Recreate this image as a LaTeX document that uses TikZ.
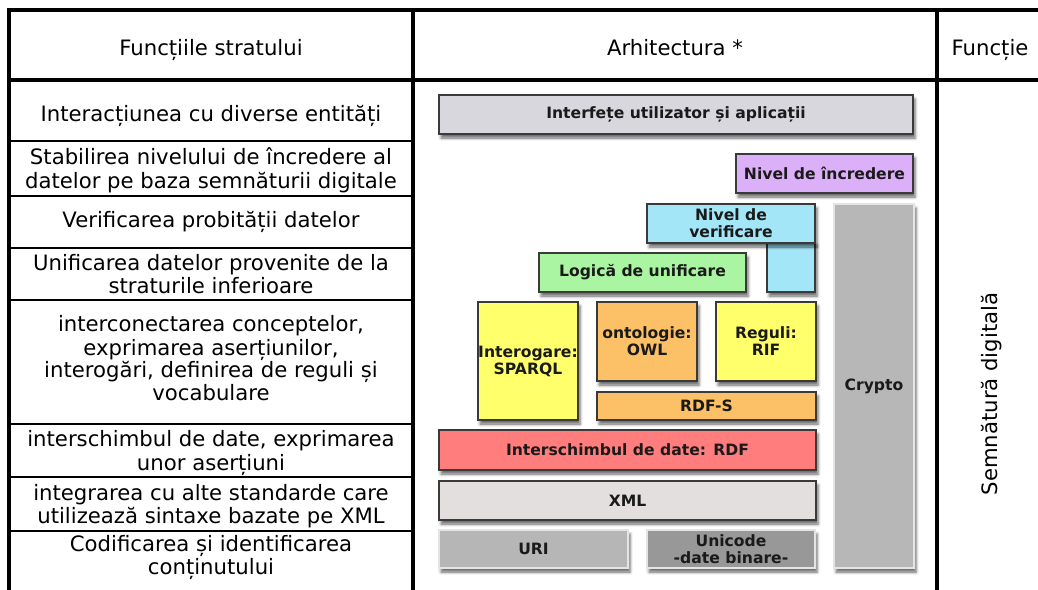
\documentclass[tikz,border=0pt]{standalone}
\usepackage{fontspec}
\setmainfont{DejaVu Sans}
\usetikzlibrary{shadows.blur}

% layer colours
\definecolor{uiC}{HTML}{D9D7DE}
\definecolor{trustC}{HTML}{DCB0F8}
\definecolor{proofC}{HTML}{A2E6F8}
\definecolor{logicC}{HTML}{A9F5A1}
\definecolor{yelC}{HTML}{FFFF6B}
\definecolor{orgC}{HTML}{FCC066}
\definecolor{rdfC}{HTML}{FF7D7D}
\definecolor{xmlC}{HTML}{E3DFDF}
\definecolor{uriC}{HTML}{B6B6B6}
\definecolor{uniC}{HTML}{989898}
\definecolor{cryC}{HTML}{B7B7B7}
\definecolor{edgeC}{HTML}{3A3A3A}
\definecolor{paleC}{HTML}{E4E4E4}
\definecolor{inkC}{HTML}{1A1A1A}

\newcommand\tabfont{\fontsize{15.9}{15}\selectfont}
\newcommand\layfont{\fontsize{11.7}{12.8}\selectfont\bfseries}

\begin{document}
\begin{tikzpicture}[x=0.75pt,y=-0.75pt,
  frame/.style={line width=3pt,black,line cap=rect},
  rowline/.style={line width=1.5pt,black},
  tab/.style={font=\tabfont,align=center,inner sep=0pt,text=black},
  dims/.style 2 args={minimum width=#1*0.75pt,minimum height=#2*0.75pt},
  layer/.style={draw=edgeC,line width=1.2pt,font=\layfont,text=inkC,
    align=center,inner sep=0pt,
    blur shadow={shadow xshift=1.5pt,shadow yshift=-3pt,
      shadow blur radius=2.2pt,shadow opacity=60}},
  palelayer/.style={layer,draw=paleC}]

\useasboundingbox (0,0) rectangle (1038,589);
\clip (0,0) rectangle (1038,589);

% table frame
\draw[frame] (9,10) -- (1050,10);
\draw[frame] (9,80) -- (1050,80);
\draw[frame] (9,10) -- (9,600);
\draw[frame] (413,10) -- (413,600);
\draw[frame] (937,10) -- (937,600);
\foreach \yy in {141,196,248,300,424,477,531}
  \draw[rowline] (9,\yy) -- (413,\yy);

% header
\node[tab] (h1) at (211,50) {\strut Funcțiile stratului};
\node[tab] (h2) at (675,50) {\strut Arhitectura *};
\node[tab] (h3) at (990,50) {\strut Funcție};

% layer functions
\node[tab] (f1) at (211,116.7) {\strut Interacțiunea cu diverse entități\strut};
\node[tab] (f2) at (211,171) {\strut Stabilirea nivelului de încredere al\\datelor pe baza semnăturii digitale\strut};
\node[tab] (f3) at (211,222) {\strut Verificarea probității datelor\strut};
\node[tab] (f4) at (211,276.7) {\strut Unificarea datelor provenite de la\\straturile inferioare\strut};
\node[tab] (f5) at (211,361) {\strut interconectarea conceptelor,\\exprimarea aserțiunilor,\\interogări, definirea de reguli și\\vocabulare\strut};
\node[tab] (f6) at (211,453.5) {\strut interschimbul de date, exprimarea\\unor aserțiuni\strut};
\node[tab] (f7) at (211,507) {\strut integrarea cu alte standarde care\\utilizează sintaxe bazate pe XML\strut};
\node[tab] (f8) at (211,557.7) {\strut Codificarea și identificarea\\conținutului\strut};

% function column
\node[tab,rotate=90] (sig) at (992,394) {Semnătură digitală};

% architecture stack
\node[layer,fill=uiC,dims={474}{39}] (ui) at (676,114.5) {Interfețe utilizator și aplicații};
\node[layer,fill=trustC,dims={177}{39}] (trust) at (824.5,173.5) {Nivel de încredere};
\node[layer,fill=proofC,dims={48}{51}] (prooftail) at (791,266.5) {};
\node[layer,fill=proofC,dims={168}{39}] (proof) at (731,223.5) {Nivel de\\verificare};
\node[palelayer,fill=cryC,dims={80}{364}] (crypto) at (874,386) {Crypto};
\node[layer,fill=logicC,dims={207}{39}] (logic) at (642.5,272.5) {Logică de unificare};
\node[layer,fill=yelC,dims={100}{118}] (sparql) at (528,361) {Interogare:\\SPARQL};
\node[layer,fill=orgC,dims={100}{79}] (owl) at (647,341.5) {ontologie:\\OWL};
\node[layer,fill=yelC,dims={100}{79}] (rif) at (766,341.5) {Reguli:\\RIF};
\node[layer,fill=orgC,dims={219}{28}] (rdfs) at (706.5,406) {RDF-S};
\node[layer,fill=rdfC,dims={377}{40}] (rdf) at (627.5,450) {Interschimbul de date: RDF};
\node[layer,fill=xmlC,dims={377}{39}] (xml) at (627.5,500.5) {XML};
\node[palelayer,fill=uriC,dims={189}{38}] (uri) at (533.5,549) {URI};
\node[palelayer,fill=uniC,dims={168}{38}] (uni) at (731,549) {Unicode\\-date binare-};

\end{tikzpicture}
\end{document}
